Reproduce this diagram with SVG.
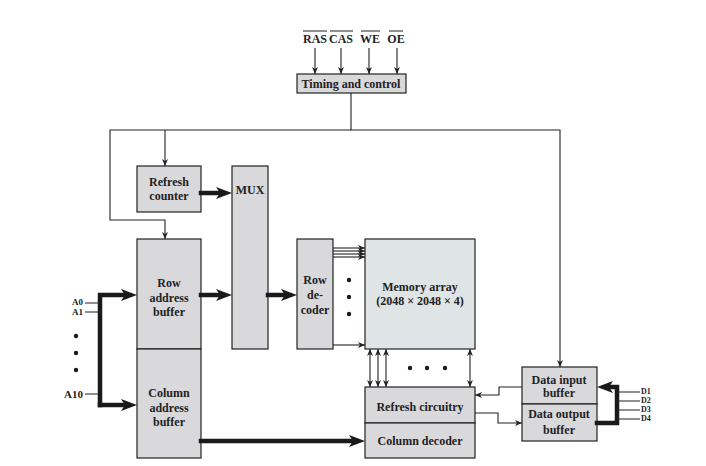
<svg xmlns="http://www.w3.org/2000/svg" width="706" height="466" viewBox="0 0 706 466">
<style>
text{font-family:"Liberation Serif","Times New Roman",serif;font-weight:bold;font-size:12px;fill:#222;text-anchor:middle}
.box{fill:#d9d9dc;stroke:#222;stroke-width:1.2}
.mem{fill:#dfe4e6;stroke:#222;stroke-width:1.2}
.thin{fill:none;stroke:#222;stroke-width:1.1}
.thick{fill:none;stroke:#1a1a1a;stroke-width:4.5;stroke-linecap:square;stroke-linejoin:miter}
.dot{fill:#1a1a1a}
.pin{font-size:9px}
.dpin{font-size:8px;text-anchor:start}
</style>
<defs>
<marker id="a" markerWidth="8" markerHeight="6" refX="7" refY="3" orient="auto-start-reverse" markerUnits="userSpaceOnUse"><path d="M0,0 L7,3 L0,6 L2,3 z" fill="#222"/></marker>
<marker id="A" markerWidth="17" markerHeight="12" refX="4" refY="6" orient="auto" markerUnits="userSpaceOnUse"><path d="M0,0 L16,6 L0,12 L4,6 z" fill="#1a1a1a"/></marker>
</defs>
<rect width="706" height="466" fill="#fff"/>

<g id="signals">
<text x="315" y="43">RAS</text>
<text x="341" y="43">CAS</text>
<text x="370" y="43">WE</text>
<text x="396" y="43">OE</text>
<path class="thin" d="M303,31 H327 M330,31 H353 M361,31 H380 M389,31 H403"/>
</g>

<g id="timing">
<rect class="box" x="297" y="74" width="109" height="19"/>
<text x="351" y="88">Timing and control</text>
</g>

<g id="refresh-counter">
<rect class="box" x="137" y="166" width="64" height="46"/>
<text x="169" y="186">Refresh</text>
<text x="169" y="200">counter</text>
</g>

<g id="mux">
<rect class="box" x="232" y="166" width="36" height="183"/>
<text x="250" y="194">MUX</text>
</g>

<g id="row-address-buffer">
<rect class="box" x="137" y="239" width="64" height="110"/>
<text x="169" y="287">Row</text>
<text x="169" y="302">address</text>
<text x="169" y="316">buffer</text>
</g>

<g id="column-address-buffer">
<rect class="box" x="137" y="349" width="64" height="109"/>
<text x="169" y="397">Column</text>
<text x="169" y="412">address</text>
<text x="169" y="426">buffer</text>
</g>

<g id="row-decoder">
<rect class="box" x="297" y="239" width="36" height="110"/>
<text x="315" y="284">Row</text>
<text x="315" y="299">de-</text>
<text x="315" y="314">coder</text>
</g>

<g id="memory-array">
<rect class="mem" x="365" y="239" width="110" height="110"/>
<text x="420" y="291">Memory array</text>
<text x="420" y="305">(2048 × 2048 × 4)</text>
</g>

<g id="refresh-circuitry">
<rect class="box" x="365" y="387" width="110" height="36"/>
<text x="420" y="411">Refresh circuitry</text>
</g>

<g id="column-decoder">
<rect class="box" x="365" y="423" width="110" height="35"/>
<text x="420" y="445">Column decoder</text>
</g>

<g id="data-input-buffer">
<rect class="box" x="522" y="367" width="75" height="37"/>
<text x="559" y="384">Data input</text>
<text x="559" y="397">buffer</text>
</g>

<g id="data-output-buffer">
<rect class="box" x="522" y="404" width="75" height="37"/>
<text x="559" y="418">Data output</text>
<text x="559" y="434">buffer</text>
</g>

<g id="address-pins">
<text class="pin" x="83" y="305" style="text-anchor:end">A0</text>
<text class="pin" x="83" y="315" style="text-anchor:end">A1</text>
<text x="83" y="398" style="text-anchor:end;font-size:11px">A10</text>
<circle class="dot" cx="76" cy="336" r="2.2"/>
<circle class="dot" cx="76" cy="353" r="2.2"/>
<circle class="dot" cx="76" cy="370" r="2.2"/>
</g>

<g id="data-pins">
<text class="dpin" x="641" y="394">D1</text>
<text class="dpin" x="641" y="403">D2</text>
<text class="dpin" x="641" y="412">D3</text>
<text class="dpin" x="641" y="421">D4</text>
</g>

<g id="connectors">
<path class="thin" d="M315,48 V74" marker-end="url(#a)"/>
<path class="thin" d="M341,48 V74" marker-end="url(#a)"/>
<path class="thin" d="M369,48 V74" marker-end="url(#a)"/>
<path class="thin" d="M397,48 V74" marker-end="url(#a)"/>
<path class="thin" d="M351,93 V130 H560 V367" marker-end="url(#a)"/>
<path class="thin" d="M351,130 H110 V220 H165 V239" marker-end="url(#a)"/>
<path class="thin" d="M165,130 V166" marker-end="url(#a)"/>

<path class="thick" d="M201,193 H220" marker-end="url(#A)"/>
<path class="thick" d="M201,295 H220" marker-end="url(#A)"/>
<path class="thick" d="M268,295 H285" marker-end="url(#A)"/>
<path class="thick" d="M100,405 V295 H125" marker-end="url(#A)"/>
<path class="thick" d="M100,405 H125" marker-end="url(#A)"/>
<path class="thick" d="M201,441 H353" marker-end="url(#A)"/>
<path class="thick" d="M597,423 H617 V387 H609" marker-end="url(#A)"/>

<path class="thin" d="M85,303 H100 M85,312 H100 M85,394 H100"/>
<path class="thin" d="M617,392 H640 M617,401 H640 M617,410 H640 M617,419 H640"/>

<path class="thin" d="M333,248 H365" marker-end="url(#a)"/>
<path class="thin" d="M333,251 H365" marker-end="url(#a)"/>
<path class="thin" d="M333,254 H365" marker-end="url(#a)"/>
<path class="thin" d="M333,257 H365" marker-end="url(#a)"/>
<path class="thin" d="M333,345 H365" marker-end="url(#a)"/>
<circle class="dot" cx="349" cy="280" r="2.2"/>
<circle class="dot" cx="349" cy="297" r="2.2"/>
<circle class="dot" cx="349" cy="314" r="2.2"/>

<path class="thin" d="M370,349 V387" marker-start="url(#a)" marker-end="url(#a)"/>
<path class="thin" d="M378,349 V387" marker-start="url(#a)" marker-end="url(#a)"/>
<path class="thin" d="M386,349 V387" marker-start="url(#a)" marker-end="url(#a)"/>
<path class="thin" d="M470,349 V387" marker-start="url(#a)" marker-end="url(#a)"/>
<circle class="dot" cx="410" cy="368" r="2.2"/>
<circle class="dot" cx="427" cy="368" r="2.2"/>
<circle class="dot" cx="445" cy="368" r="2.2"/>

<path class="thin" d="M522,387 H499 V395 H475" marker-end="url(#a)"/>
<path class="thin" d="M475,413 H498 V423 H522" marker-end="url(#a)"/>
</g>
</svg>
